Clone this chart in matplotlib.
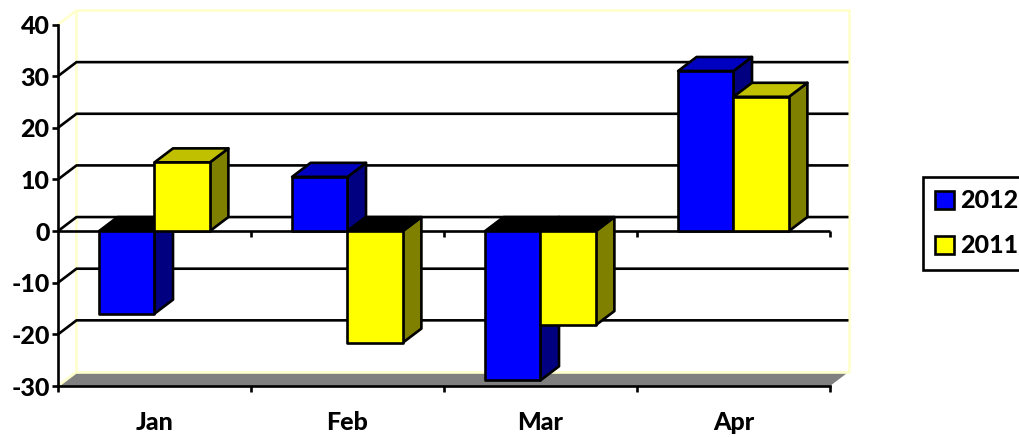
import matplotlib
matplotlib.use('Agg')
import matplotlib.pyplot as plt
from matplotlib.patches import Patch, Polygon

categories = ['Jan', 'Feb', 'Mar', 'Apr']
series_names = ['2012', '2011']
values_2012 = [-16, 10.5, -28.9, 31]
values_2011 = [13.3, -21.6, -18.2, 26]
y_ticks = [-30, -20, -10, 0, 10, 20, 30, 40]

BAR_W = 0.287
DX = 18.5 / 193
DY = 14 / 5.16
LINE = 1.9
WALL = '#FFFFCC'

plt.rcParams['font.family'] = ['Lato', 'DejaVu Sans']
plt.rcParams['font.weight'] = 'black'
plt.rcParams['font.size'] = 18
plt.rcParams['axes.unicode_minus'] = False

W, H = 1020, 437
fig = plt.figure(figsize=(W / 100, H / 100), dpi=100)
ax = fig.add_axes([58 / W, 1 - 386 / H, (830 - 58) / W, (386 - 24.5) / H])
ax.set_xlim(0, 4)
ax.set_ylim(-30, 40)


def poly(points, fc, z, ec='black', lw=LINE):
    ax.add_patch(Polygon(points, closed=True, facecolor=fc, edgecolor=ec, linewidth=lw,
                         joinstyle='round', clip_on=False, zorder=z))


def line(xs, ys, color='black', z=2, lw=LINE):
    ax.plot(xs, ys, color=color, lw=lw, clip_on=False, zorder=z, solid_capstyle='butt')


def bar3d(x0, value, front, top, side, z):
    x1 = x0 + BAR_W
    y_top = max(value, 0)
    y_low = min(value, 0)
    if value < 0:
        top = 'black'
    poly([(x1, y_low), (x1 + DX, y_low + DY), (x1 + DX, y_top + DY), (x1, y_top)], side, z)
    poly([(x0, y_top), (x0 + DX, y_top + DY), (x1 + DX, y_top + DY), (x1, y_top)], top, z)
    poly([(x0, y_low), (x1, y_low), (x1, y_top), (x0, y_top)], front, z)


# back wall and floor
poly([(0, -30), (DX, -30 + DY), (4 + DX, -30 + DY), (4, -30)], '#808080', 1, ec='none')
line([DX, DX], [-30 + DY, 40 + DY], WALL, 1.5)
line([DX, 4 + DX, 4 + DX, DX], [40 + DY, 40 + DY, -30 + DY, -30 + DY], WALL, 1.5)
line([0, DX], [40, 40 + DY], WALL, 1.5)
line([0, DX], [-30, -30 + DY], WALL, 3)

for v in y_ticks[1:-1]:
    line([0, DX, 4 + DX], [v, v + DY, v + DY])

# axis at zero with its ticks
line([0, 4], [0, 0], z=2.5)
for i in range(1, 5):
    line([i, i], [0, -6 / 5.16], z=2.5)

for i in range(len(categories)):
    bar3d(i + 0.5 - BAR_W, values_2012[i], '#0000FF', '#0000C0', '#000080', 3 + i * 0.1)
    bar3d(i + 0.5, values_2011[i], '#FFFF00', '#C0C000', '#808000', 3.05 + i * 0.1)

ax.set_facecolor('none')
for name in ['top', 'right']:
    ax.spines[name].set_visible(False)
for name in ['left', 'bottom']:
    ax.spines[name].set_linewidth(LINE)
    ax.spines[name].set_zorder(4)

ax.set_yticks(y_ticks)
ax.set_xticks(range(5))
ax.set_xticklabels([])
ax.set_xticks([i + 0.5 for i in range(4)], categories, minor=True)
ax.tick_params(axis='both', which='major', width=LINE, length=4.5, pad=1.5)
ax.tick_params(axis='x', which='minor', length=0, pad=18)

handles = [Patch(facecolor='#0000FF', edgecolor='black', linewidth=LINE),
           Patch(facecolor='#FFFF00', edgecolor='black', linewidth=LINE)]
leg = ax.legend(handles, series_names, loc='upper left', bbox_to_anchor=(923 / W, 1 - 177 / H),
                bbox_transform=fig.transFigure, borderaxespad=0, fancybox=False,
                edgecolor='black', framealpha=1, borderpad=0.5, labelspacing=0.88,
                handlelength=0.74, handleheight=0.74, handletextpad=0.26)
leg.get_frame().set_linewidth(LINE)

fig.savefig('out.png', dpi=100)
